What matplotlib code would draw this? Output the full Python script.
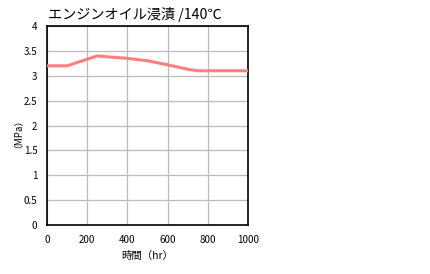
import matplotlib.pyplot as plt

plt.rcParams['font.family'] = ['Noto Sans CJK JP', 'DejaVu Sans']

hours = [0, 100, 250, 300, 400, 500, 600, 700, 750, 1000]
mpa = [3.2, 3.2, 3.4, 3.38, 3.35, 3.3, 3.22, 3.13, 3.1, 3.1]

fig = plt.figure(figsize=(4.3, 2.74), dpi=100)
ax = fig.add_axes([47 / 430, 1 - 225 / 274, 201 / 430, 199 / 274])

ax.plot(hours, mpa, color='#ff7f7f', linewidth=2.2, zorder=3)

ax.set_xlim(0, 1000)
ax.set_ylim(0, 4)
ax.set_xticks([0, 200, 400, 600, 800, 1000])
ax.set_yticks([0, 0.5, 1, 1.5, 2, 2.5, 3, 3.5, 4])
ax.set_yticklabels(['0', '0.5', '1', '1.5', '2', '2.5', '3', '3.5', '4'])
ax.grid(True, color='#bbbbbb', linewidth=0.9)
ax.tick_params(length=0, labelsize=7, pad=7)
for s in ax.spines.values():
    s.set_color('black')
    s.set_linewidth(1.2)

fig.text(48 / 430, 1 - 15 / 274, 'エンジンオイル浸漬 /140℃', fontsize=10.2, va='center', ha='left')
fig.text(13 / 430, 1 - 128 / 274, '（MPa）', fontsize=7, rotation=90, va='center', ha='center')
fig.text(147 / 430, 1 - 256 / 274, '時間（hr）', fontsize=7.5, va='center', ha='center')

plt.savefig('out.png', dpi=100)
